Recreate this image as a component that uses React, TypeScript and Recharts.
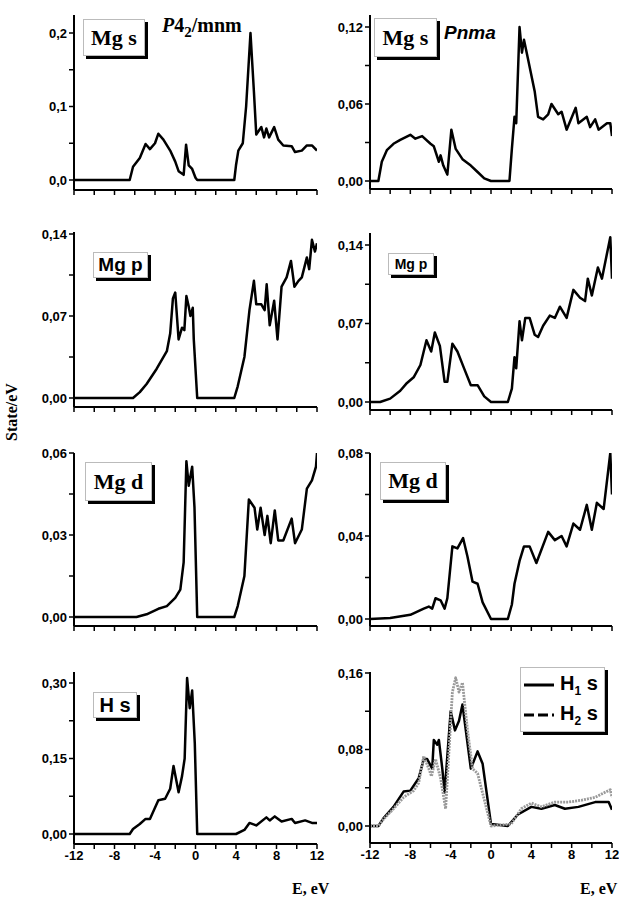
import React from "react";
import { LineChart, Line, XAxis, YAxis } from "recharts";

// ---- data (energy in eV, DOS in states/eV) ----
const mgsP_x = [-12, -6.5, -6.17, -5.5, -4.93, -4.5, -4, -3.67, -3.17, -2.5, -2, -1.67, -1.17, -0.93, -0.67, -0.33, 0, 0.17, 3.83, 4, 4.23, 4.67, 5, 5.43, 5.77, 6, 6.5, 6.77, 7, 7.27, 7.77, 8.17, 8.67, 9.5, 9.83, 10.5, 11, 11.5, 12];
const mgsP_y = [0, 0, 0.018, 0.03, 0.049, 0.042, 0.05, 0.063, 0.055, 0.04, 0.025, 0.012, 0.007, 0.048, 0.02, 0.015, 0.003, 0, 0, 0.02, 0.04, 0.05, 0.1, 0.2, 0.12, 0.062, 0.072, 0.058, 0.07, 0.058, 0.072, 0.055, 0.047, 0.046, 0.038, 0.04, 0.047, 0.047, 0.04];

const mgsN_x = [-12, -11.17, -10.83, -10.33, -9.67, -9, -8, -7.5, -6.83, -6, -5.67, -5.17, -5, -4.73, -4.33, -3.93, -3.5, -2.83, -2, -1.33, -0.67, 0, 1.83, 2.07, 2.33, 2.5, 2.83, 3.07, 3.27, 3.67, 4.33, 4.67, 5.17, 5.67, 6, 6.67, 7, 7.5, 8.4, 8.67, 9.5, 9.83, 10.33, 10.67, 11.5, 11.83, 12];
const mgsN_y = [0, 0, 0.015, 0.024, 0.029, 0.032, 0.036, 0.033, 0.035, 0.029, 0.027, 0.015, 0.02, 0.012, 0.005, 0.04, 0.025, 0.017, 0.012, 0.007, 0.002, 0, 0, 0.025, 0.05, 0.045, 0.12, 0.1, 0.11, 0.095, 0.07, 0.05, 0.048, 0.052, 0.06, 0.052, 0.054, 0.04, 0.057, 0.045, 0.05, 0.042, 0.048, 0.04, 0.045, 0.045, 0.035];

const mgpP_x = [-12, -6.17, -5.5, -4.83, -3.83, -2.83, -2.5, -2.23, -2, -1.67, -1.33, -1.1, -0.9, -0.67, -0.5, -0.27, -0.17, 0.17, 3.83, 4.17, 4.83, 5.33, 5.77, 6, 6.5, 6.83, 7.03, 7.33, 7.77, 8.1, 8.5, 9, 9.43, 9.77, 10.17, 10.5, 11, 11.23, 11.5, 11.8, 12];
const mgpP_y = [0, 0, 0.005, 0.012, 0.025, 0.04, 0.055, 0.085, 0.09, 0.05, 0.06, 0.058, 0.087, 0.078, 0.07, 0.077, 0.05, 0, 0, 0.01, 0.035, 0.075, 0.1, 0.08, 0.08, 0.075, 0.097, 0.062, 0.083, 0.05, 0.095, 0.103, 0.117, 0.095, 0.1, 0.103, 0.12, 0.11, 0.135, 0.125, 0.132];

const mgpN_x = [-12, -11, -10, -9, -8.33, -7.67, -7, -6.4, -5.93, -5.57, -5.07, -4.6, -4.33, -3.83, -3.33, -2.67, -2, -1.33, -0.67, 0, 1.67, 2.07, 2.33, 2.5, 2.83, 3.07, 3.4, 3.83, 4.33, 4.67, 5.17, 5.83, 6.33, 6.83, 7.5, 8.17, 8.83, 9.33, 9.6, 10, 10.6, 11, 11.83, 12];
const mgpN_y = [0, 0, 0.003, 0.01, 0.017, 0.022, 0.033, 0.055, 0.045, 0.062, 0.05, 0.018, 0.018, 0.052, 0.045, 0.03, 0.015, 0.015, 0.005, 0, 0, 0.012, 0.04, 0.03, 0.072, 0.055, 0.075, 0.075, 0.06, 0.058, 0.068, 0.077, 0.075, 0.085, 0.075, 0.1, 0.093, 0.09, 0.11, 0.095, 0.12, 0.11, 0.147, 0.11];

const mgdP_x = [-12, -5.83, -4.83, -3.67, -2.83, -2, -1.5, -1.17, -0.9, -0.67, -0.33, -0.1, 0.17, 3.83, 4.17, 4.83, 5.27, 5.83, 6.1, 6.43, 6.83, 7.1, 7.43, 7.83, 8.17, 8.67, 9.5, 9.83, 10.5, 11, 11.5, 11.9, 12];
const mgdP_y = [0, 0, 0.001, 0.003, 0.004, 0.007, 0.01, 0.02, 0.057, 0.048, 0.055, 0.04, 0, 0, 0.004, 0.015, 0.043, 0.04, 0.032, 0.04, 0.03, 0.037, 0.027, 0.039, 0.028, 0.028, 0.036, 0.027, 0.032, 0.047, 0.05, 0.055, 0.06];

const mgdN_x = [-12, -10, -8, -6.67, -6.17, -5.83, -5.5, -5, -4.6, -4.33, -3.83, -3.33, -2.77, -2.33, -1.83, -1.33, -0.83, 0, 1.67, 2.07, 2.33, 2.83, 3.27, 3.83, 4.5, 5.67, 6.33, 7, 7.5, 8.17, 8.83, 9.5, 10, 10.5, 11.17, 11.83, 12];
const mgdN_y = [0, 0.0005, 0.002, 0.005, 0.006, 0.005, 0.01, 0.009, 0.005, 0.01, 0.035, 0.034, 0.039, 0.03, 0.018, 0.017, 0.008, 0, 0, 0.007, 0.017, 0.028, 0.035, 0.035, 0.027, 0.042, 0.038, 0.04, 0.035, 0.046, 0.043, 0.055, 0.043, 0.056, 0.053, 0.08, 0.06];

const hsP_x = [-12, -6.5, -6.17, -5.5, -4.93, -4.5, -3.67, -3, -2.5, -2.17, -1.67, -1.33, -1.07, -0.83, -0.57, -0.33, -0.07, 0.17, 4, 4.83, 5.33, 6, 7, 7.33, 7.83, 8.5, 9.5, 9.83, 10.83, 11.5, 12];
const hsP_y = [0, 0, 0.01, 0.02, 0.03, 0.03, 0.067, 0.07, 0.09, 0.135, 0.083, 0.115, 0.15, 0.31, 0.25, 0.285, 0.18, 0, 0, 0.008, 0.022, 0.017, 0.033, 0.027, 0.035, 0.025, 0.03, 0.022, 0.027, 0.022, 0.022];

const h1_x = [-12, -11.17, -10.67, -9.67, -8.67, -8, -7.17, -6.67, -6.33, -5.83, -5.67, -5.33, -5.17, -4.83, -4.6, -4, -3.57, -3.17, -2.83, -2, -1.33, -0.83, 0, 1.67, 2.67, 4, 5, 6.33, 7.33, 8.67, 10.33, 11.67, 12];
const h1_y = [0, 0, 0.008, 0.02, 0.036, 0.037, 0.05, 0.07, 0.07, 0.06, 0.09, 0.085, 0.09, 0.06, 0.035, 0.12, 0.1, 0.11, 0.127, 0.06, 0.078, 0.065, 0.002, 0, 0.012, 0.02, 0.018, 0.022, 0.018, 0.02, 0.025, 0.025, 0.017];
const h2_x = [-12, -11.17, -10.67, -9.67, -8.67, -7.67, -7.17, -6.67, -6.17, -5.9, -5.5, -5, -4.5, -3.83, -3.5, -3.17, -2.83, -2.33, -1.83, -1.33, 0, 2, 3, 4, 5, 6.33, 7.67, 9, 10.33, 11.83, 12];
const h2_y = [0, 0, 0.007, 0.018, 0.03, 0.037, 0.045, 0.073, 0.06, 0.052, 0.07, 0.05, 0.018, 0.14, 0.155, 0.14, 0.15, 0.1, 0.06, 0.055, 0, 0.002, 0.018, 0.024, 0.02, 0.025, 0.025, 0.027, 0.03, 0.038, 0.03];

const xTicks = [-12, -10, -8, -6, -4, -2, 0, 2, 4, 6, 8, 10, 12];
const xLabels = ["-12", "", "-8", "", "-4", "", "0", "", "4", "", "8", "", "12"];

const zip = (xs: number[], ys: number[]) => xs.map((x, i) => ({ x, y: ys[i] }));

type PanelProps = {
  left: number; right: number; top: number; bottom: number;
  zeroY: number; topTickY: number; topVal: number;
  yTicks: number[]; yLabels: string[]; showX: boolean;
  series: { data: { x: number; y: number }[]; color: string; dash?: string; width?: number }[];
};

const ML = 64, MR = 14, MT = 6, MB = 28;

function Panel(p: PanelProps) {
  const ppu = (p.zeroY - p.topTickY) / p.topVal;
  const dmin = -(p.bottom - p.zeroY) / ppu;
  const dmax = (p.zeroY - p.top) / ppu;
  const w = ML + (p.right - p.left) + MR;
  const h = MT + (p.bottom - p.top) + MB;
  const tickStyle = { fill: "#000", fontFamily: "Liberation Sans, Arial, sans-serif", fontWeight: 700, fontSize: 13 };
  return (
    <div style={{ position: "absolute", left: p.left - ML, top: p.top - MT }}>
      <LineChart width={w} height={h} margin={{ top: MT, right: MR, left: 0, bottom: 0 }}>
        <XAxis type="number" dataKey="x" domain={[-12, 12]} ticks={xTicks} allowDataOverflow height={MB}
          axisLine={{ stroke: "#000", strokeWidth: 2 }} tickLine={{ stroke: "#000", strokeWidth: 1.5 }} tickSize={5}
          tick={tickStyle} tickFormatter={(v: number) => (p.showX ? xLabels[xTicks.indexOf(v)] : "")} interval={0} />
        <YAxis type="number" domain={[dmin, dmax]} ticks={p.yTicks} allowDataOverflow width={ML}
          axisLine={{ stroke: "#000", strokeWidth: 2 }} tickLine={{ stroke: "#000", strokeWidth: 1.5 }} tickSize={5}
          tick={tickStyle} tickFormatter={(v: number) => p.yLabels[p.yTicks.indexOf(v)] ?? ""} interval={0} />
        {p.series.map((s, i) => (
          <Line key={i} data={s.data} dataKey="y" type="linear" stroke={s.color} strokeWidth={s.width ?? 2.5}
            strokeLinejoin="round" strokeDasharray={s.dash} dot={false} isAnimationActive={false} />
        ))}
      </LineChart>
    </div>
  );
}

const L = { left: 74, right: 317 };
const R = { left: 370, right: 612 };

function Box({ x, y, w, h, text, serif, size }: { x: number; y: number; w: number; h: number; text: React.ReactNode; serif?: boolean; size: number }) {
  return (
    <div style={{
      position: "absolute", left: x, top: y, width: w, height: h, boxSizing: "border-box",
      border: "1px solid #bbb", background: "#fff", boxShadow: "3px 3px 0 #000",
      display: "flex", alignItems: "center", justifyContent: "center",
      fontFamily: serif ? "Liberation Serif, Times New Roman, serif" : "Liberation Sans, Arial, sans-serif",
      fontWeight: 700, fontSize: size, color: "#000",
    }}>{text}</div>
  );
}

export default function App() {
  const blk = "#000";
  return (
    <div style={{ position: "absolute", left: 0, top: 0, width: 619, height: 900, background: "#fff" }}>
      <Panel {...L} top={15} bottom={190} zeroY={180} topTickY={33} topVal={0.2} showX={false}
        yTicks={[0, 0.05, 0.1, 0.15, 0.2]} yLabels={["0,0", "", "0,1", "", "0,2"]}
        series={[{ data: zip(mgsP_x, mgsP_y), color: blk }]} />
      <Panel {...R} top={15} bottom={189} zeroY={181} topTickY={27} topVal={0.12} showX={false}
        yTicks={[0, 0.03, 0.06, 0.09, 0.12]} yLabels={["0,00", "", "0,06", "", "0,12"]}
        series={[{ data: zip(mgsN_x, mgsN_y), color: blk }]} />
      <Panel {...L} top={232} bottom={407} zeroY={398} topTickY={234} topVal={0.14} showX={false}
        yTicks={[0, 0.035, 0.07, 0.105, 0.14]} yLabels={["0,00", "", "0,07", "", "0,14"]}
        series={[{ data: zip(mgpP_x, mgpP_y), color: blk }]} />
      <Panel {...R} top={233} bottom={410} zeroY={402} topTickY={245} topVal={0.14} showX={false}
        yTicks={[0, 0.035, 0.07, 0.105, 0.14]} yLabels={["0,00", "", "0,07", "", "0,14"]}
        series={[{ data: zip(mgpN_x, mgpN_y), color: blk }]} />
      <Panel {...L} top={453} bottom={626} zeroY={617} topTickY={453} topVal={0.06} showX={false}
        yTicks={[0, 0.015, 0.03, 0.045, 0.06]} yLabels={["0,00", "", "0,03", "", "0,06"]}
        series={[{ data: zip(mgdP_x, mgdP_y), color: blk }]} />
      <Panel {...R} top={453} bottom={626} zeroY={619} topTickY={453} topVal={0.08} showX={false}
        yTicks={[0, 0.02, 0.04, 0.06, 0.08]} yLabels={["0,00", "", "0,04", "", "0,08"]}
        series={[{ data: zip(mgdN_x, mgdN_y), color: blk }]} />
      <Panel {...L} top={672} bottom={844} zeroY={834} topTickY={683} topVal={0.3} showX={true}
        yTicks={[0, 0.075, 0.15, 0.225, 0.3]} yLabels={["0,00", "", "0,15", "", "0,30"]}
        series={[{ data: zip(hsP_x, hsP_y), color: blk }]} />
      <Panel {...R} top={672} bottom={843} zeroY={826} topTickY={673} topVal={0.16} showX={true}
        yTicks={[0, 0.04, 0.08, 0.12, 0.16]} yLabels={["0,00", "", "0,08", "", "0,16"]}
        series={[
          { data: zip(h1_x, h1_y), color: blk },
          { data: zip(h2_x, h2_y), color: "#9a9a9a", dash: "2 1", width: 2.8 },
        ]} />

      <Box x={83} y={19} w={62} h={37} text="Mg s" serif size={22} />
      <div style={{ position: "absolute", left: 162, top: 14, fontFamily: "Liberation Serif, serif", fontWeight: 700, fontSize: 20 }}>
        <i>P</i>4<sub style={{ fontSize: 15 }}>2</sub>/mnm
      </div>
      <Box x={374} y={18} w={63} h={39} text="Mg s" serif size={22} />
      <div style={{ position: "absolute", left: 444, top: 22, fontFamily: "Liberation Sans, Arial, sans-serif", fontStyle: "italic", fontWeight: 700, fontSize: 19 }}>Pnma</div>
      <Box x={93} y={252} w={55} h={26} text="Mg p" size={19} />
      <Box x={388} y={253} w={46} h={22} text="Mg p" size={14} />
      <Box x={85} y={462} w={67} h={39} text="Mg d" serif size={22} />
      <Box x={380} y={462} w={66} h={38} text="Mg d" serif size={22} />
      <Box x={93} y={692} w={44} h={26} text="H s" size={20} />

      <div style={{ position: "absolute", left: 520, top: 667, width: 85, height: 65, boxSizing: "border-box", border: "1px solid #bbb", background: "#fff", boxShadow: "3px 3px 0 #000", fontFamily: "Liberation Sans, Arial, sans-serif", fontWeight: 700, fontSize: 20 }}>
        <div style={{ position: "absolute", left: 3, top: 4, display: "flex", alignItems: "center" }}>
          <svg width={30} height={20}><line x1={0} y1={10} x2={30} y2={10} stroke="#000" strokeWidth={3} /></svg>
          <span style={{ marginLeft: 6 }}>H<sub style={{ fontSize: 12 }}>1</sub> s</span>
        </div>
        <div style={{ position: "absolute", left: 3, top: 34, display: "flex", alignItems: "center" }}>
          <svg width={30} height={20}><line x1={0} y1={10} x2={30} y2={10} stroke="#000" strokeWidth={3} strokeDasharray="10 4" /></svg>
          <span style={{ marginLeft: 6 }}>H<sub style={{ fontSize: 12 }}>2</sub> s</span>
        </div>
      </div>

      <div style={{ position: "absolute", left: 12, top: 412, transform: "translate(-50%,-50%) rotate(-90deg)", fontFamily: "Liberation Serif, serif", fontWeight: 700, fontSize: 16, whiteSpace: "nowrap" }}>State/eV</div>
      <div style={{ position: "absolute", left: 292, top: 880, fontFamily: "Liberation Serif, serif", fontWeight: 700, fontSize: 16 }}>E, eV</div>
      <div style={{ position: "absolute", left: 580, top: 880, fontFamily: "Liberation Serif, serif", fontWeight: 700, fontSize: 16 }}>E, eV</div>
    </div>
  );
}
